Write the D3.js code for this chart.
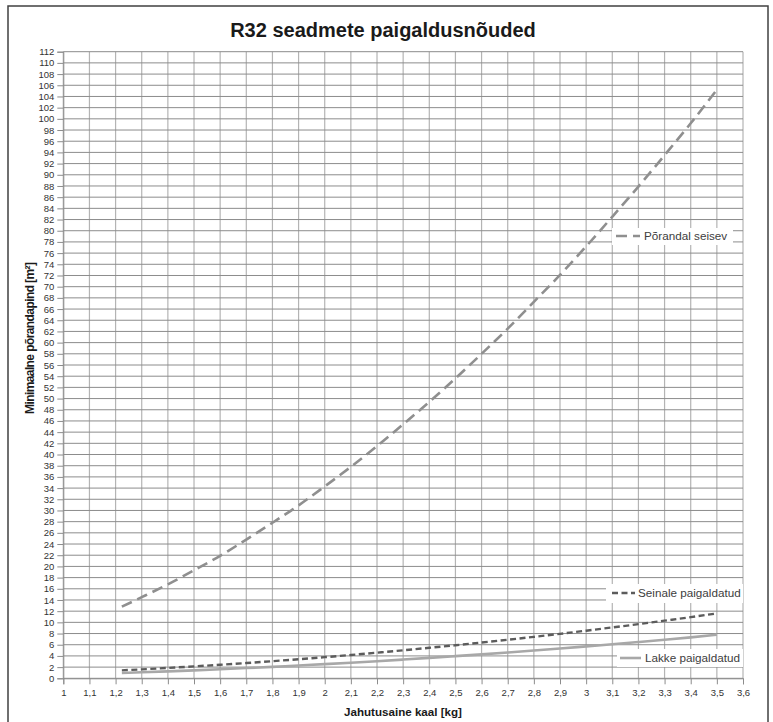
<!DOCTYPE html>
<html><head><meta charset="utf-8">
<script src="https://cdn.jsdelivr.net/npm/d3@7"></script>
<style>body{margin:0;background:#fff}svg{display:block}</style>
</head><body>
<script>
const title = "R32 seadmete paigaldusnõuded";
const xLabel = "Jahutusaine kaal [kg]";
const yLabel = "Minimaalne põrandapind [m²]";
const charge = [1.224,1.3,1.4,1.5,1.6,1.7,1.8,1.9,2.0,2.1,2.2,2.3,2.4,2.5,2.6,2.7,2.8,2.9,3.0,3.1,3.2,3.3,3.4,3.5];
const floorArea = [12.8,14.5,16.8,19.3,21.9,24.8,27.8,30.9,34.3,37.8,41.5,45.4,49.4,53.6,58.0,62.5,67.3,72.1,77.2,82.5,87.9,93.5,99.2,105.2];
const wallArea = [1.42,1.60,1.85,2.13,2.42,2.73,3.06,3.41,3.78,4.17,4.58,5.00,5.45,5.91,6.39,6.89,7.41,7.95,8.51,9.09,9.68,10.30,10.93,11.60];
const ceilingArea = [0.95,1.07,1.24,1.42,1.62,1.83,2.05,2.29,2.53,2.79,3.06,3.35,3.65,3.96,4.28,4.61,4.96,5.32,5.70,6.08,6.48,6.89,7.32,7.80];
const seriesNames = ["Põrandal seisev","Seinale paigaldatud","Lakke paigaldatud"];
const xTicks = d3.range(0,27).map(i => +(1 + i*0.1).toFixed(1));
const yTicks = d3.range(0,113,2);

const W = 773, H = 722;
const FONT = "Liberation Sans, Arial, sans-serif";
const svg = d3.select("body").append("svg").attr("width",W).attr("height",H);
svg.append("rect").attr("x",8).attr("y",6).attr("width",760).attr("height",722)
  .attr("fill","#fff").attr("stroke","#404040").attr("stroke-width",1.5);

const x = d3.scaleLinear().domain([1,3.6]).range([63.3,743]);
const y = d3.scaleLinear().domain([0,112]).range([678.3,51.7]);

const fmt = d => String(d).replace(".",",");

// grid
const g = svg.append("g");
g.selectAll(".vg").data(xTicks).join("line")
  .attr("x1",d=>x(d)).attr("x2",d=>x(d)).attr("y1",y(112)).attr("y2",y(0))
  .attr("stroke","#b4b4b4").attr("stroke-width",1.2);
g.selectAll(".hg").data(yTicks).join("line")
  .attr("x1",x(1)).attr("x2",x(3.6)).attr("y1",d=>y(d)).attr("y2",d=>y(d))
  .attr("stroke","#8c8c8c").attr("stroke-width",1);

// axes
const yAxis = d3.axisLeft(y).tickValues(yTicks).tickSize(6).tickPadding(3).tickFormat(fmt);
const ya = svg.append("g").attr("transform",`translate(${x(1)},0)`).call(yAxis);
ya.select(".domain").attr("stroke","#8c8c8c");
ya.selectAll(".tick line").attr("stroke","#8c8c8c");
ya.selectAll("text").attr("font-family",FONT).attr("font-size",9.5).attr("fill","#333");

const xAxis = d3.axisBottom(x).tickValues(xTicks).tickSize(6).tickPadding(5).tickFormat(fmt);
const xa = svg.append("g").attr("transform",`translate(0,${y(0)})`).call(xAxis);
xa.select(".domain").attr("stroke","#8c8c8c");
xa.selectAll(".tick line").attr("stroke","#8c8c8c");
xa.selectAll("text").attr("font-family",FONT).attr("font-size",9.5).attr("fill","#333");

// series
const line = d3.line().x(d=>x(d[0])).y(d=>y(d[1])).curve(d3.curveMonotoneX);
const styles = [
  {data: floorArea, color:"#8f8f8f", dash:"11,6", w:2.6},
  {data: wallArea, color:"#5c5c5c", dash:"6,3.5", w:2.4},
  {data: ceilingArea, color:"#a8a8a8", dash:null, w:2.6}
];
styles.forEach(s=>{
  svg.append("path").datum(charge.map((c,i)=>[c,s.data[i]])).attr("d",line)
    .attr("fill","none").attr("stroke",s.color).attr("stroke-width",s.w)
    .attr("stroke-dasharray",s.dash);
});

// legend entries
const legends = [
  {box:[612,228,121,17], lx:[616,640], tx:644, ty:236},
  {box:[606,584,137,19], lx:[612,635], tx:638, ty:593},
  {box:[617,649,126,18], lx:[620,641], tx:645, ty:658}
];
legends.forEach((L,i)=>{
  svg.append("rect").attr("x",L.box[0]).attr("y",L.box[1]).attr("width",L.box[2]).attr("height",L.box[3]).attr("fill","#fff");
  svg.append("line").attr("x1",L.lx[0]).attr("x2",L.lx[1]).attr("y1",L.ty).attr("y2",L.ty)
    .attr("stroke",styles[i].color).attr("stroke-width",styles[i].w).attr("stroke-dasharray",styles[i].dash);
  svg.append("text").attr("x",L.tx).attr("y",L.ty).attr("dy","0.35em")
    .attr("font-family",FONT).attr("font-size",11.7).attr("fill","#404040")
    .text(seriesNames[i]);
});

// titles
svg.append("text").attr("x",383).attr("y",37).attr("text-anchor","middle")
  .attr("font-family",FONT).attr("font-weight","bold").attr("font-size",20).attr("fill","#1a1a1a")
  .text(title);
svg.append("text").attr("x",403).attr("y",716).attr("text-anchor","middle")
  .attr("font-family",FONT).attr("font-weight","bold").attr("font-size",11.6).attr("fill","#1a1a1a")
  .text(xLabel);
svg.append("text").attr("transform","translate(34,338) rotate(-90)").attr("text-anchor","middle")
  .attr("font-family",FONT).attr("font-weight","bold").attr("font-size",12)
  .attr("textLength",152).attr("lengthAdjust","spacing").attr("fill","#1a1a1a")
  .text(yLabel);
</script>
</body></html>
